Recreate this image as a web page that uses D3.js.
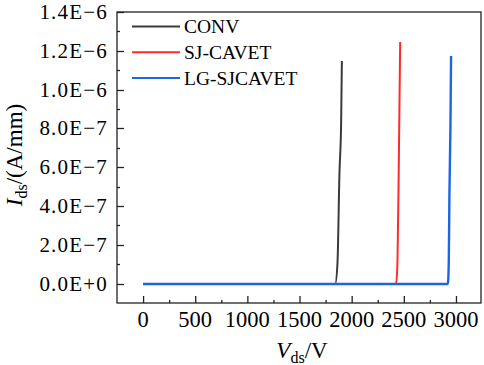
<!DOCTYPE html>
<html><head><meta charset="utf-8">
<script src="https://cdn.jsdelivr.net/npm/d3@7"></script>
<style>body{margin:0;background:#fff}svg{display:block}text{font-family:"Liberation Serif","Times New Roman",serif;fill:#000}</style>
</head><body>
<script>
const seriesNames = ["CONV", "SJ-CAVET", "LG-SJCAVET"];
const seriesColors = ["#3a3a3a", "#ff2a2a", "#1a66e6"];
const convV = [0, 500, 1000, 1500, 1800, 1842, 1864, 1883, 1899, 1906];
const convI = [0, 0, 0, 0, 0, 0, 1.06e-7, 5.7e-7, 8.26e-7, 1.148e-6];
const sjV = [0, 500, 1000, 1500, 2000, 2400, 2426, 2439, 2452, 2465];
const sjI = [0, 0, 0, 0, 0, 0, 0, 1.06e-7, 6.2e-7, 1.243e-6];
const lgV = [0, 500, 1000, 1500, 2000, 2500, 2922, 2931, 2937, 2947, 2953];
const lgI = [0, 0, 0, 0, 0, 0, 0, 1.06e-7, 4.49e-7, 8.09e-7, 1.172e-6];
const xTicks = [0, 500, 1000, 1500, 2000, 2500, 3000];
const yTicks = [0, 2e-7, 4e-7, 6e-7, 8e-7, 1e-6, 1.2e-6, 1.4e-6];
const yTickLabels = ["0.0E+0", "2.0E\u22127", "4.0E\u22127", "6.0E\u22127", "8.0E\u22127", "1.0E\u22126", "1.2E\u22126", "1.4E\u22126"];

const W = 484, H = 365;
const L = 117, R = 481, T = 12, B = 303;
const svg = d3.select("body").append("svg").attr("width", W).attr("height", H);
const x = d3.scaleLinear().domain([-250, 3240]).range([L, R]);
const y = d3.scaleLinear().domain([-1e-7, 1.4e-6]).rangeRound([B, T]);

// axes with inward ticks
const xMinor = d3.range(250, 3250, 500);
const yMinor = d3.range(1e-7, 1.4e-6, 2e-7);
svg.append("g").attr("transform", `translate(0,${B})`)
  .call(d3.axisBottom(x).tickValues(xMinor).tickSize(-3).tickFormat(""))
  .call(g => g.select(".domain").remove());
svg.append("g").attr("transform", `translate(0,${B})`)
  .call(d3.axisBottom(x).tickValues(xTicks).tickSize(-7).tickFormat(""))
  .call(g => g.select(".domain").remove());
svg.append("g").attr("transform", `translate(${L},0)`)
  .call(d3.axisLeft(y).tickValues(yMinor).tickSize(-3).tickFormat(""))
  .call(g => g.select(".domain").remove());
svg.append("g").attr("transform", `translate(${L},0)`)
  .call(d3.axisLeft(y).tickValues(yTicks).tickSize(-7).tickFormat(""))
  .call(g => g.select(".domain").remove());
svg.selectAll(".tick line").attr("stroke", "#222").attr("stroke-width", 1.3);

// tick labels
svg.append("g").selectAll("text").data(xTicks).join("text")
  .attr("x", d => x(d)).attr("y", 327).attr("text-anchor", "middle")
  .attr("font-size", 22.5).text(d => d);
svg.append("g").selectAll("text").data(yTicks).join("text")
  .attr("x", 108).attr("y", d => y(d)).attr("dy", "0.35em").attr("text-anchor", "end")
  .attr("font-size", 21).attr("letter-spacing", 1.2).text((d, i) => yTickLabels[i]);

// frame
svg.append("rect").attr("x", L).attr("y", T).attr("width", R - L).attr("height", B - T)
  .attr("fill", "none").attr("stroke", "#222").attr("stroke-width", 1.3);

// lines
const line = d3.line().x(d => x(d[0])).y(d => y(d[1])).curve(d3.curveMonotoneX);
const data = [d3.zip(convV, convI), d3.zip(sjV, sjI), d3.zip(lgV, lgI)];
svg.append("g").selectAll("path").data(data).join("path")
  .attr("d", line).attr("fill", "none")
  .attr("stroke", (d, i) => seriesColors[i]).attr("stroke-width", (d, i) => i === 2 ? 2.4 : 2);

// legend
const lg = svg.append("g").selectAll("g").data(seriesNames).join("g")
  .attr("transform", (d, i) => `translate(0,${26.5 + i * 25.7})`);
lg.append("line").attr("x1", 132).attr("x2", 180).attr("stroke", (d, i) => seriesColors[i]).attr("stroke-width", 2);
lg.append("text").attr("x", 184).attr("dy", "0.35em").attr("font-size", 19.5).text(d => d);

// axis titles
const xt = svg.append("text").attr("x", 302).attr("y", 358).attr("text-anchor", "middle").attr("font-size", 23);
xt.append("tspan").attr("font-style", "italic").text("V");
xt.append("tspan").attr("font-size", 16).attr("dy", 5).text("ds");
xt.append("tspan").attr("dy", -5).text("/V");
const yt = svg.append("text").attr("transform", "translate(22,155) rotate(-90)").attr("text-anchor", "middle").attr("font-size", 23);
yt.append("tspan").attr("font-style", "italic").text("I");
yt.append("tspan").attr("font-size", 16).attr("dy", 5).text("ds");
yt.append("tspan").attr("dy", -5).text("/(A/mm)");
</script>
</body></html>
